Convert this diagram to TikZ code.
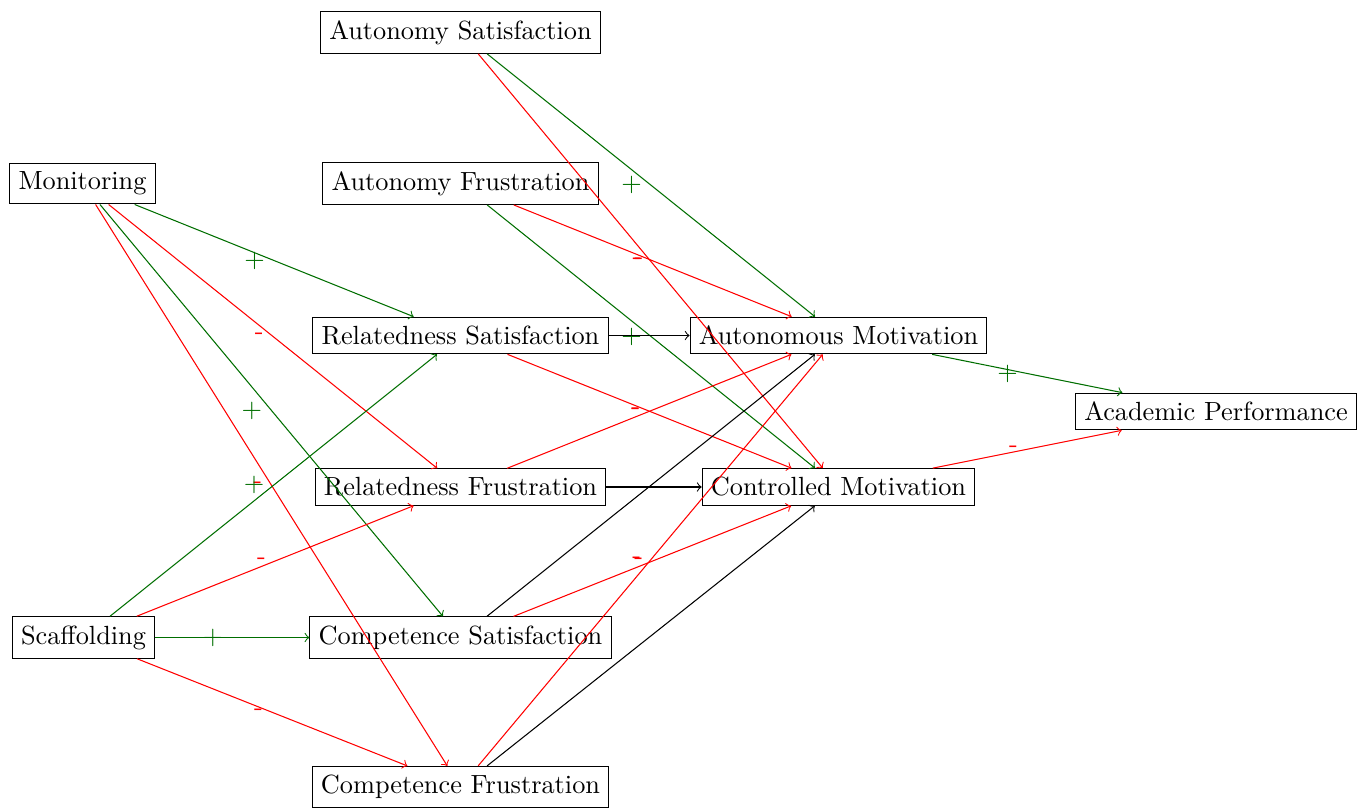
\documentclass[tikz,border=0pt]{standalone}
\definecolor{dgreen}{RGB}{0,110,0}
\begin{document}
\begin{tikzpicture}[x=0.3802pt,y=-0.3802pt,
  box/.style={draw, rectangle},
  posarr/.style={->, dgreen},
  negarr/.style={->, red},
  neuarr/.style={->, black},
  lab/.style={midway, left}]
\useasboundingbox (0,0) rectangle (1358,807);
\node[box] (as) at (460.5,32.5) {Autonomy Satisfaction};
\node[box] (mo) at (82.5,183.5) {Monitoring};
\node[box] (af) at (460.5,183.5) {Autonomy Frustration};
\node[box] (rs) at (460.5,335.5) {Relatedness Satisfaction};
\node[box] (am) at (838.5,335.5) {Autonomous Motivation};
\node[box] (ap) at (1216,411.5) {Academic Performance};
\node[box] (rf) at (460.5,487) {Relatedness Frustration};
\node[box] (cm) at (838.5,487) {Controlled Motivation};
\node[box] (sc) at (83.5,637.5) {Scaffolding};
\node[box] (cs) at (460.5,637.5) {Competence Satisfaction};
\node[box] (cf) at (460.5,787) {Competence Frustration};
% Monitoring
\draw[posarr] (mo) -- node[lab] {+} (rs);
\draw[negarr] (mo) -- node[lab] {-} (rf);
\draw[posarr] (mo) -- node[lab] {+} (cs);
\draw[negarr] (mo) -- node[lab] {-} (cf);
% Scaffolding
\draw[posarr] (sc) -- node[lab] {+} (rs);
\draw[negarr] (sc) -- node[lab] {-} (rf);
\draw[posarr] (sc) -- node[lab] {+} (cs);
\draw[negarr] (sc) -- node[lab] {-} (cf);
% Autonomy
\draw[posarr] (as) -- node[lab] {+} (am);
\draw[negarr] (as) -- node[lab] {-} (cm);
\draw[negarr] (af) -- node[lab] {-} (am);
\draw[posarr] (af) -- node[lab] {+} (cm);
% Relatedness
\draw[neuarr] (rs) -- (am);
\draw[negarr] (rs) -- node[lab] {-} (cm);
\draw[negarr] (rf) -- node[lab] {-} (am);
\draw[neuarr] (rf) -- (cm);
% Competence
\draw[neuarr] (cs) -- (am);
\draw[negarr] (cs) -- node[lab] {-} (cm);
\draw[negarr] (cf) -- node[lab] {-} (am);
\draw[neuarr] (cf) -- (cm);
% Outcome
\draw[posarr] (am) -- node[lab] {+} (ap);
\draw[negarr] (cm) -- node[lab] {-} (ap);
\end{tikzpicture}
\end{document}
